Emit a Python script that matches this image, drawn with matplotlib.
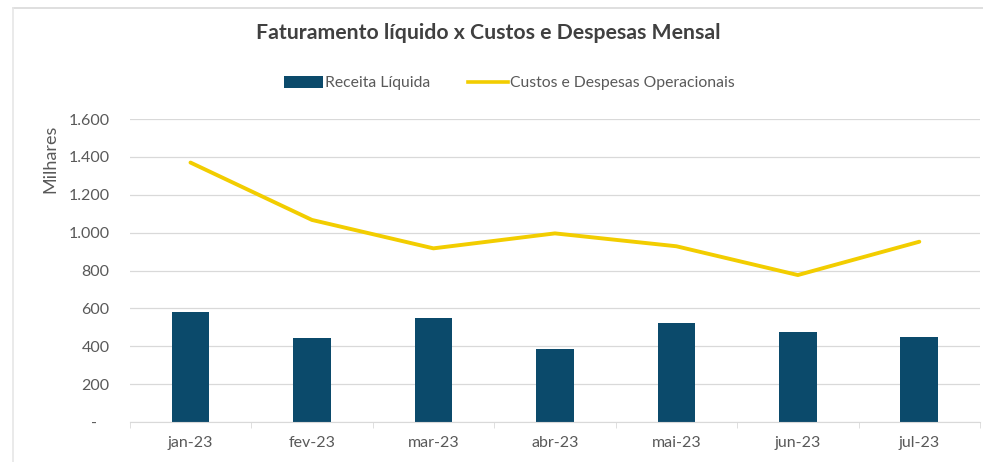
import numpy as np
import matplotlib.pyplot as plt
from matplotlib.lines import Line2D
from matplotlib.patches import Patch
from matplotlib.ticker import FuncFormatter

plt.rcParams['font.family'] = ['Lato', 'DejaVu Sans']

# monthly data (thousands)
months = ['jan-23', 'fev-23', 'mar-23', 'abr-23', 'mai-23', 'jun-23', 'jul-23']
receita = [581, 443, 548, 387, 524, 475, 448]
custos = [1370, 1067, 917, 996, 928, 776, 952]

bar_color = '#0B4A6B'
line_color = '#F2CD00'
text_color = '#595959'

fig = plt.figure(figsize=(9.83, 4.62), dpi=100)
ax = fig.add_axes([0.132, 0.0866, 0.865, 0.6558])

x = np.arange(len(months))
ax.bar(x, receita, width=0.31, color=bar_color, zorder=2)
ax.plot(x, custos, color=line_color, linewidth=2.8, solid_capstyle='round', zorder=3)

ax.set_xlim(-0.5, len(months) - 0.5)
ax.set_ylim(0, 1600)
ax.set_yticks(np.arange(0, 1601, 200))
ax.yaxis.set_major_formatter(FuncFormatter(
    lambda v, p: '-   ' if v == 0 else f'{int(v):,}'.replace(',', '.')))
ax.set_xticks(x)
ax.set_xticklabels(months)
ax.set_xticks(np.arange(-0.5, len(months), 1), minor=True)

ax.grid(axis='y', color='#D9D9D9', linewidth=0.9, zorder=0)
for s in ['top', 'right', 'left']:
    ax.spines[s].set_visible(False)
ax.spines['bottom'].set_color('#D9D9D9')
ax.tick_params(axis='y', length=0, pad=14.5, labelsize=11.5, labelcolor=text_color)
ax.tick_params(axis='x', which='major', length=0, pad=10, labelsize=11.5, labelcolor=text_color)
ax.tick_params(axis='x', which='minor', length=4, color='#D9D9D9')

fig.text(0.051, 0.656, 'Milhares', rotation=90, ha='center', va='center',
         fontsize=13, color=text_color)

fig.text(0.497, 0.928, 'Faturamento líquido x Custos e Despesas Mensal',
         ha='center', va='center', fontsize=15.3, fontweight='bold', color='#404040')

handles = [Patch(facecolor=bar_color, label='Receita Líquida'),
           Line2D([0], [0], color=line_color, linewidth=2.6, label='Custos e Despesas Operacionais')]
fig.legend(handles=handles, loc='center', bbox_to_anchor=(0.518, 0.82), ncol=2,
           frameon=False, fontsize=11.3, labelcolor=text_color, handlelength=2.5,
           handleheight=0.8, columnspacing=2.4, handletextpad=0.15)

# outer chart border
fig.add_artist(Line2D([0.013, 1.0], [0.983, 0.983], transform=fig.transFigure,
                      color='#D9D9D9', linewidth=1.2))
fig.add_artist(Line2D([0.013, 0.013], [0.0, 0.983], transform=fig.transFigure,
                      color='#E6E6E6', linewidth=1.2))

fig.savefig('out.png', dpi=100)
